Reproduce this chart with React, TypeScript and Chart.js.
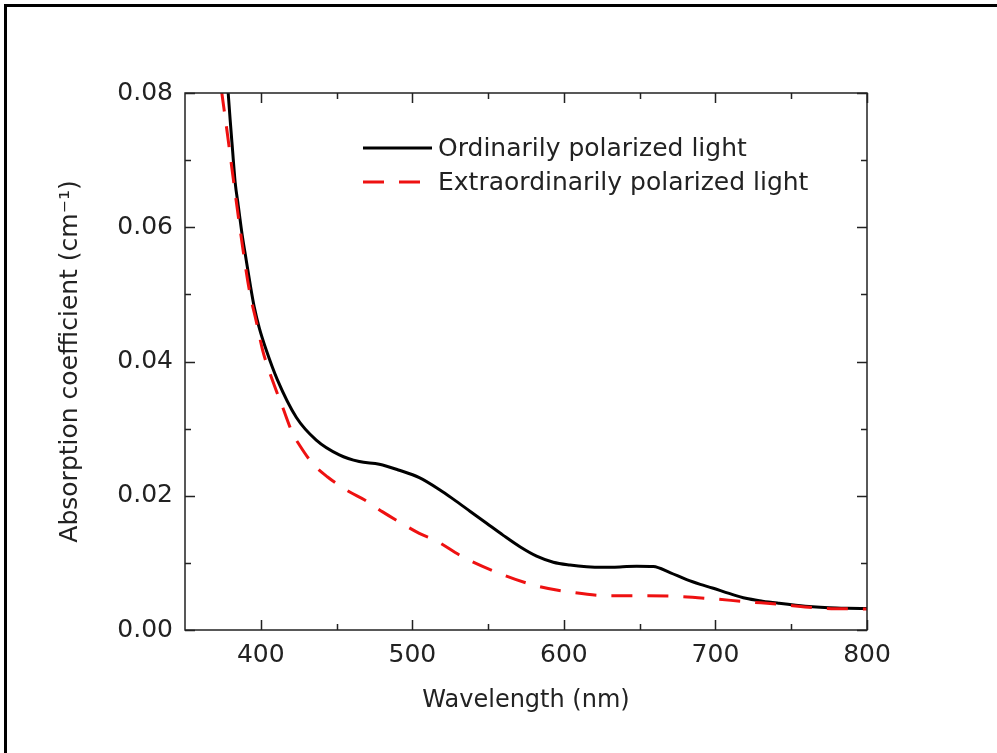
import React, { useEffect, useRef } from "react";
import { Chart, registerables } from "chart.js";

Chart.register(...registerables);

// Ordinarily polarized light (black solid)
const ordinaryWavelength = [
  377.7, 378.5, 379.8, 381.2, 383.1, 385.1, 387.7, 390.4, 393, 395.7, 399, 403.6, 410.9, 423.4, 436.6, 451.8,
  465, 478.2, 491.4, 504.6, 518, 527, 538, 549, 560, 571, 582, 593, 604, 615, 626, 637, 648, 659, 670, 681, 690,
  698, 709, 720, 731, 742, 753, 764, 775, 787, 800,
];
const ordinaryValues = [
  0.0825, 0.08, 0.076, 0.072, 0.0667, 0.0633, 0.0589, 0.0551, 0.0515, 0.0481, 0.045, 0.0417, 0.0373, 0.0317,
  0.0283, 0.0261, 0.0251, 0.0247, 0.0238, 0.0227, 0.0209, 0.0195, 0.0177, 0.0159, 0.0141, 0.0124, 0.011, 0.0101,
  0.00968, 0.00943, 0.00935, 0.0094, 0.0095, 0.00945, 0.00855, 0.0075, 0.0068, 0.00626, 0.00545, 0.00472,
  0.0043, 0.00398, 0.0037, 0.00347, 0.00333, 0.00325, 0.0032,
];

// Extraordinarily polarized light (red dashed)
const extraWavelength = [
  372.5, 374.3, 378.1, 381.4, 384.7, 388, 391.3, 394, 396.8, 401.2, 403.4, 410, 414.4, 421, 425.4, 434.2, 444.1,
  458.4, 468.3, 480.4, 491.4, 504.6, 515.6, 533.2, 557.4, 581.6, 605.8, 630, 654, 676, 698, 720, 742, 771, 800,
];
const extraValues = [
  0.083, 0.08, 0.0737, 0.068, 0.0624, 0.0571, 0.0521, 0.0489, 0.0462, 0.0417, 0.04, 0.0358, 0.0332, 0.0293,
  0.0276, 0.0248, 0.0228, 0.0206, 0.0194, 0.0176, 0.0161, 0.0144, 0.0133, 0.0109, 0.00845, 0.0066, 0.0056,
  0.0051, 0.0051, 0.005, 0.00465, 0.00422, 0.00383, 0.00323, 0.00313,
];

const seriesLabels = ["Ordinarily polarized light", "Extraordinarily polarized light"];
const xTicks = [400, 500, 600, 700, 800];
const xMinorTicks = [450, 550, 650, 750];
const yTicks = [0, 0.02, 0.04, 0.06, 0.08];
const yMinorTicks = [0.01, 0.03, 0.05, 0.07];
const xTitle = "Wavelength (nm)";
const yTitle = "Absorption coefficient (cm\u207B\u00B9)";

const FONT = "'DejaVu Sans', sans-serif";
const TEXT = "#222";
const RED = "#ee1111";

const frameTicksPlugin = {
  id: "frameTicks",
  afterDatasetsDraw(chart: any) {
    const { ctx, chartArea, scales } = chart;
    const { left, right, top, bottom } = chartArea;
    const x = scales.x;
    const y = scales.y;
    ctx.save();
    ctx.strokeStyle = "#222";
    ctx.lineWidth = 1.5;
    ctx.strokeRect(left, top, right - left, bottom - top);
    const major = 10;
    const minor = 6;
    ctx.beginPath();
    const xt = (vals: number[], len: number) => {
      for (const v of vals) {
        const px = Math.round(x.getPixelForValue(v)) + 0.5;
        ctx.moveTo(px, bottom);
        ctx.lineTo(px, bottom - len);
        ctx.moveTo(px, top);
        ctx.lineTo(px, top + len);
      }
    };
    const yt = (vals: number[], len: number) => {
      for (const v of vals) {
        const py = Math.round(y.getPixelForValue(v)) + 0.5;
        ctx.moveTo(left, py);
        ctx.lineTo(left + len, py);
        ctx.moveTo(right, py);
        ctx.lineTo(right - len, py);
      }
    };
    xt(xTicks, major);
    xt(xMinorTicks, minor);
    yt(yTicks, major);
    yt(yMinorTicks, minor);
    ctx.stroke();

    // legend
    const lx0 = 363;
    const lineEnds = [432, 422];
    const tx = 438;
    const rows = [148, 182];
    ctx.font = `25px ${FONT}`;
    ctx.fillStyle = TEXT;
    ctx.textBaseline = "middle";
    ctx.textAlign = "left";
    chart.data.datasets.forEach((ds: any, i: number) => {
      ctx.beginPath();
      ctx.strokeStyle = ds.borderColor;
      ctx.lineWidth = ds.borderWidth;
      ctx.setLineDash(ds.borderDash || []);
      ctx.lineDashOffset = 0;
      ctx.moveTo(lx0, rows[i]);
      ctx.lineTo(lineEnds[i], rows[i]);
      ctx.stroke();
      ctx.setLineDash([]);
      ctx.fillText(ds.label, tx, rows[i] + 1);
    });
    ctx.restore();
  },
};

export default function App() {
  const ref = useRef<HTMLCanvasElement | null>(null);
  useEffect(() => {
    if (!ref.current) return;
    const chart = new Chart(ref.current, {
      type: "line",
      data: {
        datasets: [
          {
            label: seriesLabels[0],
            data: ordinaryWavelength.map((w, i) => ({ x: w, y: ordinaryValues[i] })),
            borderColor: "#000",
            borderWidth: 3,
            pointRadius: 0,
            cubicInterpolationMode: "monotone",
            clip: 0,
            order: 1,
          },
          {
            label: seriesLabels[1],
            data: extraWavelength.map((w, i) => ({ x: w, y: extraValues[i] })),
            borderColor: RED,
            borderWidth: 3,
            borderDash: [21, 15],
            borderDashOffset: 18,
            pointRadius: 0,
            cubicInterpolationMode: "monotone",
            clip: 0,
            order: 0,
          },
        ],
      },
      options: {
        animation: false,
        responsive: false,
        devicePixelRatio: 1,
        layout: { padding: { top: 93, right: 130, left: 0, bottom: 0 } },
        plugins: { legend: { display: false }, tooltip: { enabled: false } },
        scales: {
          x: {
            type: "linear",
            min: 350,
            max: 800,
            afterBuildTicks: (s: any) => {
              s.ticks = xTicks.map((v) => ({ value: v }));
            },
            afterFit: (s: any) => {
              s.height = 123;
            },
            grid: { display: false, drawTicks: false },
            border: { display: false },
            ticks: {
              padding: 10,
              color: TEXT,
              font: { family: FONT, size: 25 },
              maxRotation: 0,
              callback: (v: any) => String(v),
            },
            title: {
              display: true,
              text: xTitle,
              color: TEXT,
              font: { family: FONT, size: 24 },
              padding: { top: 0, bottom: 38 },
            },
          },
          y: {
            type: "linear",
            min: 0,
            max: 0.08,
            afterBuildTicks: (s: any) => {
              s.ticks = yTicks.map((v) => ({ value: v }));
            },
            afterFit: (s: any) => {
              s.width = 185;
            },
            grid: { display: false, drawTicks: false },
            border: { display: false },
            ticks: {
              padding: 12,
              color: TEXT,
              font: { family: FONT, size: 25 },
              callback: (v: any) => Number(v).toFixed(2),
            },
            title: {
              display: true,
              text: yTitle,
              color: TEXT,
              font: { family: FONT, size: 25 },
              padding: { top: 55, bottom: 0 },
            },
          },
        },
      },
      plugins: [frameTicksPlugin],
    } as any);
    return () => chart.destroy();
  }, []);

  return (
    <div
      style={{
        position: "fixed",
        left: 0,
        top: 0,
        width: 997,
        height: 753,
        background: "#fff",
        overflow: "hidden",
      }}
    >
      <div
        style={{
          position: "absolute",
          left: 4,
          top: 4,
          width: 1200,
          height: 1000,
          border: "3px solid #000",
        }}
      />
      <canvas ref={ref} width={997} height={753} style={{ position: "absolute", left: 0, top: 0 }} />
    </div>
  );
}
